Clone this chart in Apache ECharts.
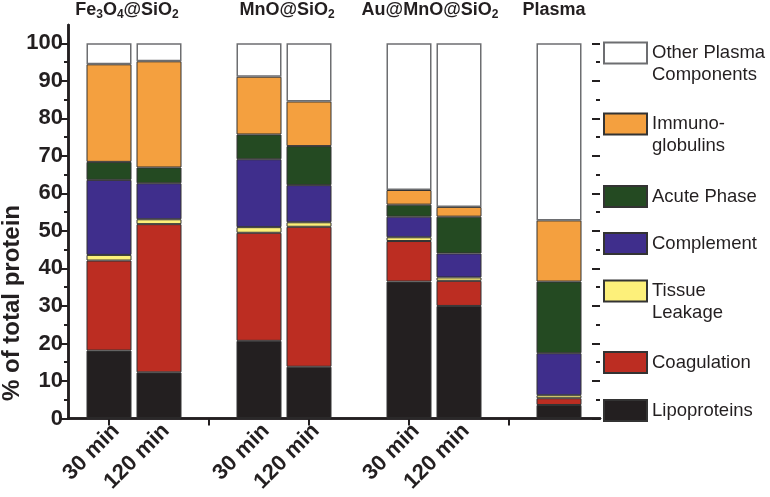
<!DOCTYPE html>
<html>
<head>
<meta charset="utf-8">
<script src="https://cdn.jsdelivr.net/npm/echarts@6/dist/echarts.min.js"></script>
<style>html,body{margin:0;padding:0;background:#fff}#c{width:770px;height:497px}</style>
</head>
<body>
<div id="c"></div>
<script>
const categories = ['30 min','120 min','','30 min','120 min','','30 min','120 min','',''];
const lipoproteins    = [18.1, 12.3, null, 20.7, 13.8, null, 36.5, 30.0, null, 3.6];
const coagulation     = [24.0, 39.5, null, 28.8, 37.3, null, 10.8,  6.7, null, 1.8];
const tissueLeakage   = [ 1.5,  1.3, null,  1.5,  1.2, null,  1.0,  0.9, null, 0.8];
const complement      = [20.0,  9.6, null, 18.1,  9.9, null,  5.5,  6.4, null, 11.2];
const acutePhase      = [ 4.8,  4.2, null,  6.6, 10.4, null,  3.2,  9.8, null, 19.1];
const immunoglobulins = [26.0, 28.3, null, 15.4, 11.9, null,  3.9,  2.6, null, 16.3];
const otherPlasma     = [ 5.6,  4.8, null,  8.9, 15.5, null, 39.1, 43.6, null, 47.2];
const groupLabels = ['Fe{s|3}O{s|4}@SiO{s|2}', 'MnO@SiO{s|2}', 'Au@MnO@SiO{s|2}', 'Plasma'];
const seriesNames = ['Lipoproteins','Coagulation','Tissue\nLeakage','Complement','Acute Phase','Immuno-\nglobulins','Other Plasma\nComponents'];
const seriesData = [lipoproteins, coagulation, tissueLeakage, complement, acutePhase, immunoglobulins, otherPlasma];
const seriesColors = ['#231f20','#bc2d22','#fdf07a','#3f2e8c','#244a22','#f4a03f','#ffffff'];

const chart = echarts.init(document.getElementById('c'));
const ink = '#231f20';
const font = 'Liberation Sans, Arial, sans-serif';

const series = seriesNames.map((n, i) => ({
  name: n, type: 'bar', stack: 'total', xAxisIndex: 2, yAxisIndex: 2,
  barWidth: 45, data: seriesData[i],
  itemStyle: { color: seriesColors[i], borderColor: i === 6 ? '#6d6e71' : '#333', borderWidth: i === 6 ? 1.5 : 1 },
  emphasis: { disabled: true }
}));

const legendOrder = [6,5,4,3,2,1,0];
const legendTops = [20, 91, 185, 232, 258, 351, 399];
const legends = legendOrder.map((si, k) => {
  const two = seriesNames[si].indexOf('\n') >= 0;
  return {
    data: [seriesNames[si]], left: 603, top: legendTops[k], orient: 'vertical',
    itemWidth: 43, itemHeight: 21, padding: 0, selectedMode: false, icon: 'rect',
    formatter: two ? (name => '\n' + name) : (name => name),
    textStyle: { fontSize: 18.5, lineHeight: 22, color: ink, fontFamily: font }
  };
});

const hiddenAxis = { axisLine: { show: false }, axisTick: { show: false }, axisLabel: { show: false }, splitLine: { show: false } };
const frameLine = { show: true, lineStyle: { color: ink, width: 2.5 } };
const groupX = [127, 287, 430, 554];
const option = {
  animation: false,
  grid: [
    { left: 68, right: 170, top: 25, bottom: 78.5 },
    { left: 84, width: 500, top: 43.3, bottom: 78.5 },
    { left: 91, width: 500, top: 43.3, bottom: 78.5 }
  ],
  xAxis: [
    { gridIndex: 0, type: 'value', min: 0, max: 1, position: 'bottom', axisLine: frameLine, axisTick: { show: false }, axisLabel: { show: false }, splitLine: { show: false } },
    { gridIndex: 0, type: 'value', min: 0, max: 1, position: 'top', axisLine: frameLine, axisTick: { show: false }, axisLabel: { show: false }, splitLine: { show: false } },
    { gridIndex: 1, type: 'category', data: categories, position: 'bottom',
      axisLine: { show: false }, axisTick: { show: true, alignWithLabel: true, length: 7, lineStyle: { color: ink, width: 2 } },
      axisLabel: { show: false }, splitLine: { show: false } },
    { gridIndex: 2, type: 'category', data: categories, position: 'bottom',
      axisLine: { show: false }, axisTick: { show: false },
      axisLabel: { rotate: 45, interval: 0, fontSize: 22, fontWeight: 'bold', color: ink, fontFamily: font, margin: 9 }, splitLine: { show: false } }
  ],
  yAxis: [
    { gridIndex: 0, type: 'value', min: 0, max: 1, position: 'left', axisLine: frameLine, axisTick: { show: false }, axisLabel: { show: false }, splitLine: { show: false } },
    { gridIndex: 0, type: 'value', min: 0, max: 1, position: 'right', axisLine: frameLine, axisTick: { show: false }, axisLabel: { show: false }, splitLine: { show: false } },
    { gridIndex: 1, type: 'value', min: 0, max: 100, interval: 10, position: 'left', offset: 16,
      axisLine: { show: false }, axisTick: { show: true, length: 9, lineStyle: { color: ink, width: 2 } },
      minorTick: { show: true, splitNumber: 2, length: 4, lineStyle: { color: ink, width: 2 } },
      axisLabel: { fontSize: 22, fontWeight: 'bold', color: ink, fontFamily: font, margin: 5 }, splitLine: { show: false } },
    { gridIndex: 1, type: 'value', min: 0, max: 100, interval: 10, position: 'right', offset: 16,
      axisLine: { show: false }, axisTick: { show: true, inside: true, length: 8, lineStyle: { color: ink, width: 2 } },
      minorTick: { show: true, splitNumber: 2, length: 4, lineStyle: { color: ink, width: 2 } },
      axisLabel: { show: false }, splitLine: { show: false } },
    Object.assign({ gridIndex: 2, type: 'value', min: 0, max: 100 }, hiddenAxis)
  ],
  legend: legends,
  series: series,
  graphic: [
    { type: 'text', rotation: Math.PI / 2, x: 12, y: 303,
      style: { text: '% of total protein', fontSize: 24, fontWeight: 'bold', fill: ink, fontFamily: font, align: 'center', verticalAlign: 'middle' } }
  ].concat(groupLabels.map((t, i) => ({
    type: 'text', x: groupX[i], y: 10,
    style: { text: t, fontSize: 18, fontWeight: 'bold', fill: ink, fontFamily: font, align: 'center', verticalAlign: 'middle',
      rich: { s: { fontSize: 12, fontWeight: 'bold', fill: ink, fontFamily: font, padding: [10, 0, 0, 0] } } }
  })))
};
chart.setOption(option);
</script>
</body>
</html>
